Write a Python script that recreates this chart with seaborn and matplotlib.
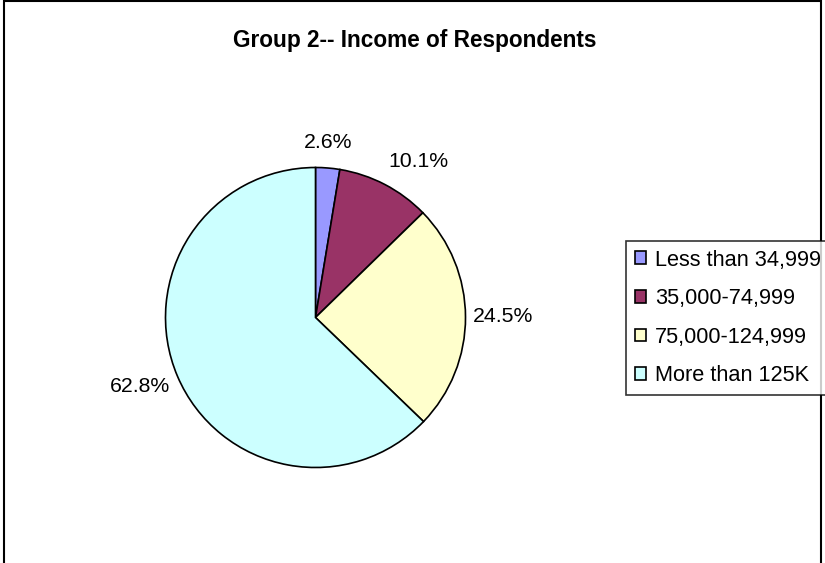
import numpy as np
import matplotlib.pyplot as plt
import seaborn as sns
from matplotlib.patches import Rectangle

# data
categories = ['Less than 34,999', '35,000-74,999', '75,000-124,999', 'More than 125K']
shares = [2.6, 10.1, 24.5, 62.8]
colors = ['#9999FF', '#993366', '#FFFFCC', '#CCFFFF']
title = 'Group 2-- Income of Respondents'

sns.set_theme(style='white')
plt.rcParams['font.family'] = ['Liberation Sans', 'DejaVu Sans']
plt.rcParams['text.color'] = 'black'

W, H = 825, 563
fig = plt.figure(figsize=(W / 100, H / 100), dpi=100)

# pie axes: centre (316, 318) px, radius 150 px
cx, cy, r = 315.5, 317.5, 150
ax = fig.add_axes([(cx - r) / W, (H - cy - r) / H, 2 * r / W, 2 * r / H])

wedges, _, autotexts = ax.pie(
    shares,
    colors=sns.color_palette(colors),
    startangle=90,
    counterclock=False,
    autopct='%1.1f%%',
    wedgeprops=dict(edgecolor='black', linewidth=1.2),
    textprops=dict(fontsize=15.3, color='black'),
)
ax.set_xlim(-1, 1)
ax.set_ylim(-1, 1)
ax.axis('off')

# Excel-style label placement: text edge just outside the rim
dx, dy = 1.05, 1.17
for w, t in zip(wedges, autotexts):
    ang = np.deg2rad((w.theta1 + w.theta2) / 2)
    c, s = np.cos(ang), np.sin(ang)
    t.set_position((dx * c, dy * s))
    t.set_ha('center' if abs(c) < 0.2 else ('left' if c > 0 else 'right'))
    t.set_va('center')
    t.set_clip_on(False)

fig.text(415 / W, 1 - 40 / H, title, ha='center', va='center',
         fontsize=16.3, fontweight='bold', color='black')

leg = fig.legend(
    wedges, categories,
    loc='center left',
    bbox_to_anchor=(626 / W, 1 - 318 / H),
    fontsize=15.7,
    labelcolor='black',
    frameon=True,
    fancybox=False,
    edgecolor='black',
    handlelength=0.52,
    handleheight=0.52,
    handletextpad=0.41,
    borderpad=0.40,
    borderaxespad=0,
    labelspacing=0.81,
)
leg.get_frame().set_linewidth(1.2)

# outer chart frame (bottom edge runs off the image)
fig.patches.append(Rectangle((4 / W, -0.05), 817 / W, 1.05 - 1 / H,
                             transform=fig.transFigure, fill=False,
                             edgecolor='black', linewidth=1.5))

fig.savefig('out.png', dpi=100)
